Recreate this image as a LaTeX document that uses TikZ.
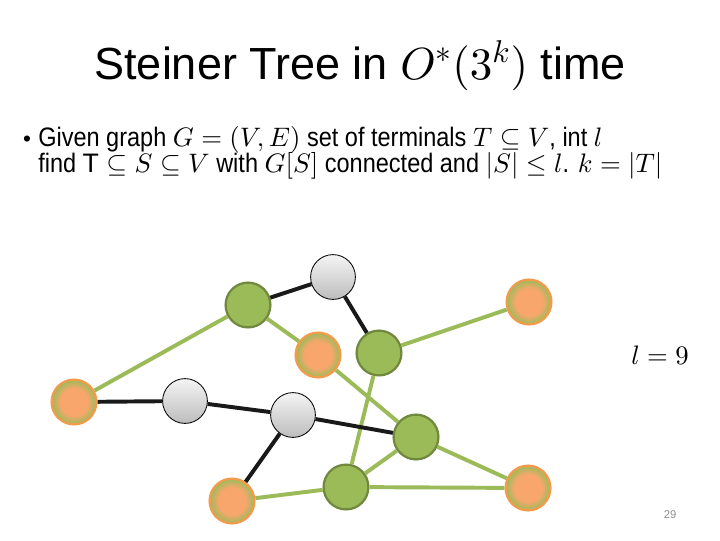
\documentclass[tikz,border=0pt]{standalone}
\usepackage{amsmath,amssymb}
\usepackage{fontspec}
\setmainfont{Liberation Sans}
\newfontfamily\bodyfont[FakeStretch=0.88]{Liberation Sans}
\DeclareFontShape{OML}{cmm}{m}{it}{<->cmmi10}{}
\DeclareFontShape{OMS}{cmsy}{m}{n}{<->cmsy10}{}
\DeclareFontShape{OT1}{cmr}{m}{n}{<->cmr10}{}
\usetikzlibrary{positioning}
\definecolor{termorange}{HTML}{F9A66C}
\definecolor{termrim}{HTML}{F29B4C}
\definecolor{olivegreen}{HTML}{9BBB59}
\definecolor{olivedark}{HTML}{71893F}
\definecolor{greytop}{HTML}{F4F4F4}
\definecolor{greybot}{HTML}{BDBDBD}
\pgfdeclareradialshading{termshade}{\pgfpoint{0bp}{0bp}}{color(0bp)=(termorange); color(15bp)=(termorange); color(25bp)=(olivegreen); color(50bp)=(olivegreen)}

\begin{document}
\begin{tikzpicture}[x=0.025cm,y=-0.025cm]
  \tikzset{
    terminal/.style={circle,minimum size=1.12cm,inner sep=0pt,shading=termshade,draw=termrim,line width=1.6pt},
    steiner/.style={circle,minimum size=1.12cm,inner sep=0pt,fill=olivegreen,draw=olivedark,line width=1.6pt},
    spare/.style={circle,minimum size=1.12cm,inner sep=0pt,top color=greytop,bottom color=greybot,draw=black,line width=0.6pt},
    treeedge/.style={olivegreen,line width=2.8pt},
    otheredge/.style={black!90,line width=2.8pt},
    statement/.style={font=\fontsize{19}{19}\selectfont\bodyfont,anchor=base west,inner sep=0pt}
  }
  \useasboundingbox (0,0) rectangle (720,540);
  % title and statement
  \node[font=\fontsize{32}{38}\selectfont,anchor=base] (title) at (360,79) {Steiner Tree in $O^*(3^k)$ time};
  \node[font=\fontsize{16}{20}\selectfont,anchor=base,inner sep=0pt] (bullet) at (27,146) {•};
  \node[statement] (line1) at (38,146)
    {Given graph $G=(V,E)$ set of terminals $T\subseteq V$, int $l$};
  \node[statement] (line2) at (38,172)
    {find $\mathrm{T}\subseteq S\subseteq V$ with $G[S]$ connected and $|S|\leq l$. $k=|T|$};
  \node[font=\fontsize{19}{22}\selectfont] (bound) at (660,355) {$l=9$};
  \node[font=\fontsize{8}{10}\selectfont,text=black!45] (page) at (670,515) {29};
  % vertices
  \node[terminal] (t1) at (74,402) {};
  \node[terminal] (t2) at (318,355) {};
  \node[terminal] (t3) at (529,302) {};
  \node[terminal] (t4) at (232,501) {};
  \node[terminal] (t5) at (528,488) {};
  \node[steiner] (g1) at (248,305) {};
  \node[steiner] (g2) at (379,353) {};
  \node[steiner] (g3) at (416,437) {};
  \node[steiner] (g4) at (346,487) {};
  \node[spare] (w1) at (333,277) {};
  \node[spare] (w2) at (185,401) {};
  \node[spare] (w3) at (293,415) {};
  % edges of the tree
  \draw[treeedge] (t1) -- (g1) (g1) -- (t2) (t2) -- (g3) (g2) -- (t3) (g2) -- (g4)
    (g3) -- (g4) (g3) -- (t5) (g4) -- (t5) (t4) -- (g4);
  % remaining edges
  \draw[otheredge] (g1) -- (w1) (w1) -- (g2) (t1) -- (w2) (w2) -- (w3) (w3) -- (g3) (w3) -- (t4);
\end{tikzpicture}
\end{document}
